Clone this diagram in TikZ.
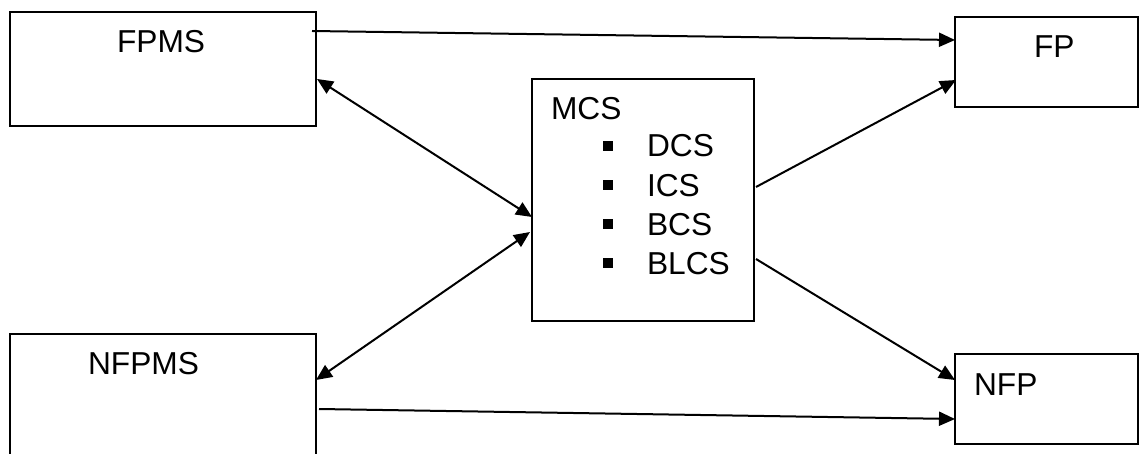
\documentclass[tikz,border=0pt]{standalone}
\usepackage{fontspec}
\setmainfont{Liberation Sans}
\usetikzlibrary{calc,arrows.meta}
\begin{document}
\begin{tikzpicture}[x=1pt,y=-1pt,
  box/.style={draw, line width=2pt, inner sep=0pt, outer sep=0pt, fill=white},
  lbl/.style={inner sep=0pt, outer sep=0pt, anchor=base west,
    font=\fontsize{31.7}{38}\selectfont},
  bullet/.style={fill=black, inner sep=0pt, minimum size=10pt},
  conn/.style={line width=2pt},
  tip/.style={Triangle[length=16pt,width=14pt]},
  arr/.style={conn, -{Triangle[length=16pt,width=14pt]}},
  darr/.style={conn, {Triangle[length=16pt,width=14pt]}-{Triangle[length=16pt,width=14pt]}}
]
\useasboundingbox (0,0) rectangle (1140,454);
\fill[white] (0,0) rectangle (1140,454);
\clip (0,0) rectangle (1140,454);

% boxes
\node[box, minimum width=306pt, minimum height=114pt] (fpms)  at (163,69) {};
\node[box, minimum width=306pt, minimum height=136pt] (nfpms) at (163,402) {};
\node[box, minimum width=222pt, minimum height=242pt] (mcs)   at (643,200) {};
\node[box, minimum width=183pt, minimum height=90pt]  (fp)    at (1046.5,62) {};
\node[box, minimum width=183pt, minimum height=90pt]  (nfp)   at (1046.5,399) {};

% labels
\node[lbl] (fpmsT)  at (117,53)  {FPMS};
\node[lbl] (nfpmsT) at (88,374)  {NFPMS};
\node[lbl] (fpT)    at (1034,58) {FP};
\node[lbl] (nfpT)   at (974,395) {NFP};
\node[lbl] (mcsT)   at (551,120) {MCS};

% bullet list inside MCS
\node[bullet] (b1) at (608,146) {};
\node[bullet] (b2) at (608,185) {};
\node[bullet] (b3) at (608,224) {};
\node[bullet] (b4) at (608,263) {};
\node[lbl] (i1) at (647,156.7) {DCS};
\node[lbl] (i2) at (647,196.5) {ICS};
\node[lbl] (i3) at (647,235.7) {BCS};
\node[lbl] (i4) at (647,275)   {BLCS};

% connectors
\draw[arr]  ($(fpms.north east)+(-4,19)$) -- ($(fp.north west)+(0,23)$);
\draw[darr] ($(fpms.north east)+(1,67)$)  -- ($(mcs.north west)+(0,138)$);
\draw[darr] ($(nfpms.north east)+(0,46)$) -- ($(mcs.north west)+(-2,153)$);
\draw[arr]  ($(mcs.north east)+(2,108)$)  -- ($(fp.north west)+(1,63)$);
\draw[arr]  ($(mcs.north east)+(2,180)$)  -- ($(nfp.north west)+(0,26)$);
\draw[arr]  ($(nfpms.north east)+(3,75)$) -- ($(nfp.north west)+(0,65)$);
\end{tikzpicture}
\end{document}
